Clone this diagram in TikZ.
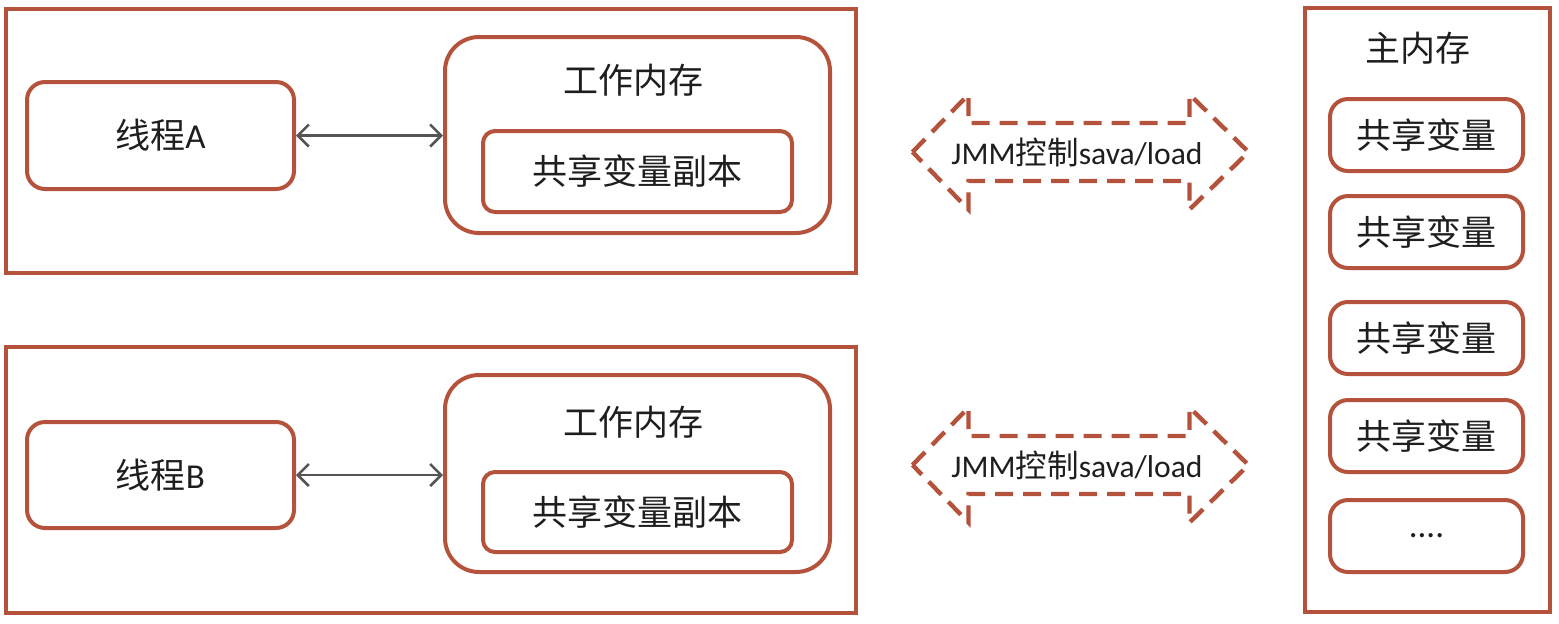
\documentclass[tikz,border=0pt]{standalone}
\usepackage{fontspec}
\setmainfont{Carlito}
\newfontfamily\cjk{Noto Sans CJK SC}
\usetikzlibrary{arrows.meta,calc}
\definecolor{brick}{RGB}{181,82,60}
\definecolor{ink}{RGB}{85,85,85}
\definecolor{txt}{RGB}{30,30,30}

\begin{document}
\begin{tikzpicture}[x=0.5pt,y=-0.5pt,
    frame/.style={draw=brick, line width=1.8pt, inner sep=0pt},
    box/.style={draw=brick, line width=2pt, rounded corners=9pt, inner sep=0pt, text=txt},
    zh/.style={font=\cjk\fontsize{17.5}{20}\selectfont, text=txt},
    mix/.style={font=\fontsize{17.5}{20}\selectfont, text=txt},
    link/.style={draw=ink, line width=1.3pt, {Straight Barb[length=5.5pt,width=11pt]}-{Straight Barb[length=5.5pt,width=11pt]}},
    jmm/.style={draw=brick, line width=2.2pt, dash pattern=on 9pt off 5pt}]
\useasboundingbox (0,0) rectangle (1559,623);

% thread A
\node[frame, minimum width=425pt, minimum height=132pt] (outerA) at (431,141) {};
\node[box, mix, minimum width=133.5pt, minimum height=53.5pt] (threadA) at (160.5,135.5) {{\cjk 线程}A};
\node[box, rounded corners=17pt, minimum width=192.5pt, minimum height=98pt] (workA) at (637.5,135) {};
\node[zh] (workAlabel) at (633,80) {工作内存};
\node[box, zh, rounded corners=6pt, minimum width=154.5pt, minimum height=40.5pt] (copyA) at (637.5,171.5) {共享变量副本};
\draw[link] (threadA) -- (threadA -| workA.west);

% thread B
\node[frame, minimum width=425pt, minimum height=133pt] (outerB) at (431,480) {};
\node[box, mix, minimum width=133.5pt, minimum height=53pt] (threadB) at (160.5,475) {{\cjk 线程}B};
\node[box, rounded corners=17pt, minimum width=192.5pt, minimum height=98.5pt] (workB) at (637.5,473.5) {};
\node[zh] (workBlabel) at (633,422) {工作内存};
\node[box, zh, rounded corners=6pt, minimum width=154.5pt, minimum height=40pt] (copyB) at (637.5,512) {共享变量副本};
\draw[link] (threadB) -- (threadB -| workB.west);

% JMM arrows
\node[font=\fontsize{15.8}{18}\selectfont, text=txt] (jmmA) at (1077,152) {JMM{\cjk 控制}sava/load};
\node[font=\fontsize{15.8}{18}\selectfont, text=txt] (jmmB) at (1077,465) {JMM{\cjk 控制}sava/load};
\foreach \n in {jmmA,jmmB}
  \draw[jmm] ($(\n)+(-164.5,0)$) -- ++(56,-57.5) -- ++(0,28.5) -- ++(221,0) -- ++(0,-28.5)
    -- ++(59,57.5) -- ++(-59,57.5) -- ++(0,-28.5) -- ++(-221,0) -- ++(0,28.5) -- cycle;

% main memory
\node[frame, minimum width=122.5pt, minimum height=302pt] (main) at (1427.5,310) {};
\node[zh] (mainlabel) at (1418,48) {主内存};
\node[box, zh, minimum width=96.5pt, minimum height=36pt] (var1) at (1426.5,135) {共享变量};
\node[box, zh, minimum width=96.5pt, minimum height=36pt] (var2) at (1426.5,232) {共享变量};
\node[box, zh, minimum width=96.5pt, minimum height=36pt] (var3) at (1426.5,338) {共享变量};
\node[box, zh, minimum width=96.5pt, minimum height=36pt] (var4) at (1426.5,436) {共享变量};
\node[box, mix, minimum width=96.5pt, minimum height=36pt] (var5) at (1426.5,536) {....};
\end{tikzpicture}
\end{document}
